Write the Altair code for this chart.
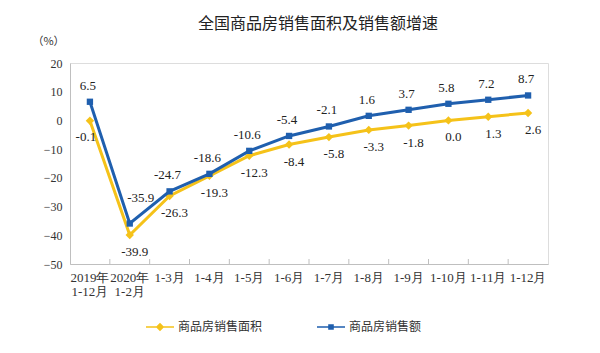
import altair as alt
import pandas as pd

categories = ["2019年|1-12月", "2020年|1-2月", "1-3月", "1-4月", "1-5月", "1-6月",
              "1-7月", "1-8月", "1-9月", "1-10月", "1-11月", "1-12月"]
area_growth = [-0.1, -39.9, -26.3, -19.3, -12.3, -8.4, -5.8, -3.3, -1.8, 0.0, 1.3, 2.6]
sales_growth = [6.5, -35.9, -24.7, -18.6, -10.6, -5.4, -2.1, 1.6, 3.7, 5.8, 7.2, 8.7]
series_names = ["商品房销售面积", "商品房销售额"]
series_colors = ["#f5c219", "#1f5fae"]
y_ticks = [-50, -40, -30, -20, -10, 0, 10, 20]

rows = []
for c, v in zip(categories, area_growth):
    rows.append({"cat": c, "series": series_names[0], "value": v, "label": f"{v:.1f}"})
for c, v in zip(categories, sales_growth):
    rows.append({"cat": c, "series": series_names[1], "value": v, "label": f"{v:.1f}"})
df = pd.DataFrame(rows)
tick_df = pd.DataFrame({"cat": categories[1:]})

SERIF = "Liberation Serif, Times New Roman, serif"
GRID = "#bfbfbf"

xscale = alt.Scale(type="band", domain=categories, paddingInner=0, paddingOuter=0)
yscale = alt.Scale(domain=[-50, 20], nice=False)
cscale = alt.Scale(domain=series_names, range=series_colors)

diamond_leg = "M-1,-0.05H1V0.05H-1Z M-0.3,0L0,-0.3L0.3,0L0,0.3Z"
square_leg = "M-1,-0.05H1V0.05H-1Z M-0.2,-0.2H0.2V0.2H-0.2Z"
sscale = alt.Scale(domain=series_names, range=[diamond_leg, square_leg])

x_axis = alt.Axis(title=None, labelAngle=0, ticks=False, domainColor=GRID,
                  bandPosition=0.5,
                  labelFont=SERIF, labelFontSize=13, labelColor="#333",
                  labelPadding=7, labelLineHeight=14,
                  labelExpr="split(datum.label, '|')")
x_enc = alt.X("cat:N", scale=xscale, sort=categories, axis=x_axis)
y_enc = alt.Y("value:Q", scale=yscale,
              axis=alt.Axis(values=y_ticks, grid=False, ticks=False, domainColor=GRID,
                            labelFont=SERIF, labelFontSize=12, labelColor="#333",
                            labelPadding=8, title="（%）", titleAngle=0,
                            titleX=-22, titleY=-22, titleFont="Noto Sans CJK SC",
                            titleFontSize=11,
                            titleFontWeight="normal", titleColor="#333",
                            titleAlign="center", titleBaseline="middle"))

base = alt.Chart(df)

legend = alt.Legend(
    orient="none", legendX=76, legendY=250, direction="horizontal", title=None,
    symbolSize=784, symbolStrokeWidth=0, symbolOpacity=1, labelFont="Noto Sans CJK SC",
    labelFontSize=12, labelColor="#333", labelOffset=4, columnPadding=54)

layers = []
for name, color, shape, size in zip(series_names, series_colors,
                                    ["diamond", "square"], [70, 40]):
    sub = base.transform_filter(alt.datum.series == name)
    line = sub.mark_line(strokeWidth=3, color=color).encode(x=x_enc, y=y_enc)
    pts = sub.mark_point(filled=True, shape=shape, size=size, opacity=1,
                         color=color).encode(x=x_enc, y=y_enc)
    layers += [line, pts]

legend_layer = base.mark_point(filled=True, opacity=0).encode(
    x=x_enc, y=y_enc,
    fill=alt.Fill("series:N", scale=cscale, legend=legend),
    shape=alt.Shape("series:N", scale=sscale, legend=legend))

label_props = dict(font=SERIF, fontSize=13, color="#222")
area_first = base.transform_filter(
    (alt.datum.series == series_names[0]) & (alt.datum.cat == categories[0])
).mark_text(dy=16, dx=-4, **label_props).encode(x=x_enc, y=y_enc, text="label:N")
area_labels = base.transform_filter(
    (alt.datum.series == series_names[0]) & (alt.datum.cat != categories[0])
).mark_text(dy=17, dx=5, **label_props).encode(x=x_enc, y=y_enc, text="label:N")
sales_labels = base.transform_filter(
    (alt.datum.series == series_names[1]) & (alt.datum.cat != categories[1])
).mark_text(dy=-16, dx=-2, **label_props).encode(x=x_enc, y=y_enc, text="label:N")
sales_label_low = base.transform_filter(
    (alt.datum.series == series_names[1]) & (alt.datum.cat == categories[1])
).mark_text(dy=-26, dx=11, **label_props).encode(x=x_enc, y=y_enc, text="label:N")

ticks = alt.Chart(tick_df).mark_rule(color=GRID, strokeWidth=1).encode(
    x=alt.X("cat:N", scale=xscale, sort=categories, bandPosition=0, axis=x_axis),
    y=alt.value(196), y2=alt.value(201))

chart = alt.layer(*layers, legend_layer, area_first, area_labels,
                  sales_labels, sales_label_low, ticks).properties(
    width=478, height=201,
    title=alt.TitleParams("全国商品房销售面积及销售额增速", font="Noto Sans CJK SC",
                          fontSize=16, fontWeight="normal", color="#222",
                          anchor="middle", offset=3, dx=9),
    autosize=alt.AutoSizeParams(type="none"),
    padding={"left": 70, "top": 63, "right": 52, "bottom": 89},
).configure_view(stroke=GRID, strokeWidth=1).configure(background="white")

chart.save("out.html", embed_options={"renderer": "svg", "actions": False})
